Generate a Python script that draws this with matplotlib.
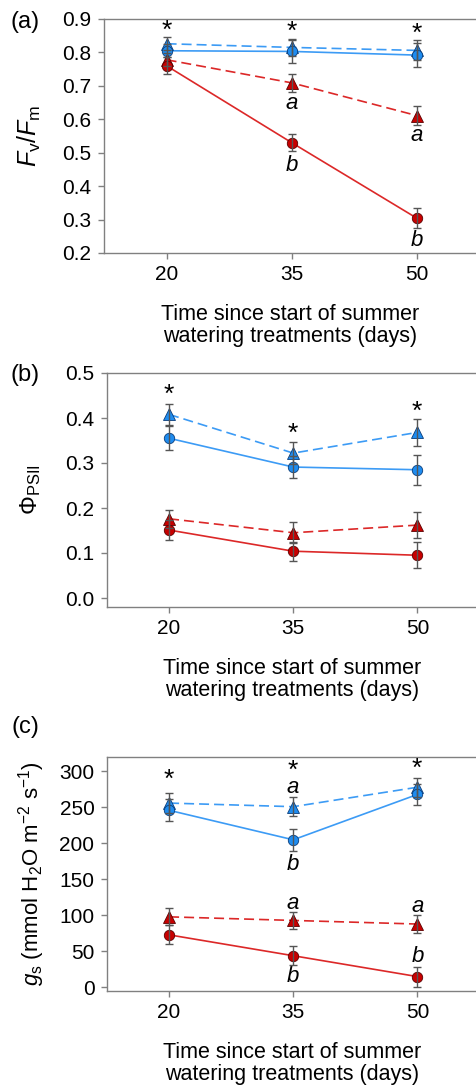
import matplotlib
matplotlib.use('Agg')
import matplotlib.pyplot as plt

plt.rcParams['font.family'] = ['Liberation Sans', 'DejaVu Sans']
plt.rcParams['mathtext.fontset'] = 'custom'
plt.rcParams['mathtext.rm'] = 'Liberation Sans'
plt.rcParams['mathtext.it'] = 'Liberation Sans:italic'

days = [20, 35, 50]

# (a) Fv/Fm
fvfm_blue_tri = [0.826, 0.815, 0.806]
fvfm_blue_tri_err = [0.020, 0.025, 0.030]
fvfm_blue_circ = [0.805, 0.803, 0.792]
fvfm_blue_circ_err = [0.020, 0.035, 0.035]
fvfm_red_tri = [0.778, 0.709, 0.611]
fvfm_red_tri_err = [0.020, 0.027, 0.028]
fvfm_red_circ = [0.760, 0.530, 0.304]
fvfm_red_circ_err = [0.025, 0.026, 0.030]

# (b) PhiPSII
phi_blue_tri = [0.408, 0.322, 0.368]
phi_blue_tri_err = [0.024, 0.024, 0.030]
phi_blue_circ = [0.355, 0.291, 0.285]
phi_blue_circ_err = [0.027, 0.025, 0.033]
phi_red_tri = [0.176, 0.145, 0.162]
phi_red_tri_err = [0.020, 0.023, 0.029]
phi_red_circ = [0.151, 0.104, 0.095]
phi_red_circ_err = [0.022, 0.021, 0.029]

# (c) gs
gs_blue_tri = [256, 251, 278]
gs_blue_tri_err = [14, 13, 13]
gs_blue_circ = [246, 205, 268]
gs_blue_circ_err = [15, 15, 15]
gs_red_tri = [98, 93, 88]
gs_red_tri_err = [12, 12, 13]
gs_red_circ = [73, 44, 15]
gs_red_circ_err = [13, 13, 14]

# annotations: (x, y, text)
notes_a = [(20, 0.867, '*'), (35, 0.864, '*'), (50, 0.858, '*'),
           (35, 0.647, 'a'), (50, 0.552, 'a'), (35, 0.462, 'b'), (50, 0.237, 'b')]
notes_b = [(20, 0.453, '*'), (35, 0.366, '*'), (50, 0.416, '*')]
notes_c = [(20, 289, '*'), (35, 302, '*'), (50, 305, '*'),
           (35, 277, 'a'), (35, 170, 'b'), (35, 117, 'a'), (50, 113, 'a'),
           (50, 43, 'b'), (35, 15, 'b')]

blue_face = '#1E8CF0'
blue_edge = '#0A3C78'
blue_line = '#3C9BF5'
red_face = '#C80000'
red_edge = '#5A0000'
red_line = '#DC2828'
spine_col = '#808080'

xlabel = 'Time since start of summer\nwatering treatments (days)'

fig = plt.figure(figsize=(4.77, 10.86), dpi=100)


def series(ax, y, err, marker, face, edge, line, ls):
    ax.plot(days, y, color=line, ls=ls, lw=1.2, dashes=(6, 3) if ls == '--' else (None, None), zorder=2)
    ax.errorbar(days, y, yerr=err, fmt='none', ecolor='#555555', elinewidth=1.0,
                capsize=3, capthick=1.0, zorder=4)
    ax.plot(days, y, ls='none', marker=marker, ms=7.5 if marker == 'o' else 8,
            mfc=face, mec=edge, mew=0.6, zorder=3)


def style(ax, ylim, yticks, yfmt):
    ax.set_xlim(12.5, 57.2)
    ax.set_ylim(*ylim)
    ax.set_xticks(days)
    ax.set_yticks(yticks)
    ax.set_yticklabels([yfmt.format(v) for v in yticks])
    for s in ax.spines.values():
        s.set_color(spine_col)
        s.set_linewidth(1.0)
    ax.spines['right'].set_visible(False)
    ax.tick_params(direction='out', length=4, width=1.0, color=spine_col,
                   labelsize=15, pad=5)
    ax.set_xlabel(xlabel, fontsize=15.5, labelpad=14, linespacing=1.05)


def notes(ax, items):
    for x, y, t in items:
        if t == '*':
            ax.text(x, y, r'$*$', ha='center', va='center', fontsize=19)
        else:
            ax.text(x, y, r'$\mathit{%s}$' % t, ha='center', va='center', fontsize=16)


# panel (a)
ax1 = fig.add_axes([104 / 477, 1 - 253 / 1086, 373 / 477, 234 / 1086])
series(ax1, fvfm_blue_tri, fvfm_blue_tri_err, '^', blue_face, blue_edge, blue_line, '--')
series(ax1, fvfm_blue_circ, fvfm_blue_circ_err, 'o', blue_face, blue_edge, blue_line, '-')
series(ax1, fvfm_red_tri, fvfm_red_tri_err, '^', red_face, red_edge, red_line, '--')
series(ax1, fvfm_red_circ, fvfm_red_circ_err, 'o', red_face, red_edge, red_line, '-')
style(ax1, (0.2, 0.9), [0.2, 0.3, 0.4, 0.5, 0.6, 0.7, 0.8, 0.9], '{:.1f}')
notes(ax1, notes_a)
ax1.set_ylabel(r'$F_\mathrm{v}/F_\mathrm{m}$', fontsize=18, labelpad=14)

# panel (b)
ax2 = fig.add_axes([107 / 477, 1 - 607 / 1086, 370 / 477, 234 / 1086])
series(ax2, phi_blue_tri, phi_blue_tri_err, '^', blue_face, blue_edge, blue_line, '--')
series(ax2, phi_blue_circ, phi_blue_circ_err, 'o', blue_face, blue_edge, blue_line, '-')
series(ax2, phi_red_tri, phi_red_tri_err, '^', red_face, red_edge, red_line, '--')
series(ax2, phi_red_circ, phi_red_circ_err, 'o', red_face, red_edge, red_line, '-')
style(ax2, (-0.02, 0.5), [0.0, 0.1, 0.2, 0.3, 0.4, 0.5], '{:.1f}')
notes(ax2, notes_b)
ax2.set_ylabel(r'$\Phi_\mathrm{PSII}$', fontsize=17, labelpad=16)

# panel (c)
ax3 = fig.add_axes([107 / 477, 1 - 991 / 1086, 370 / 477, 234 / 1086])
series(ax3, gs_blue_tri, gs_blue_tri_err, '^', blue_face, blue_edge, blue_line, '--')
series(ax3, gs_blue_circ, gs_blue_circ_err, 'o', blue_face, blue_edge, blue_line, '-')
series(ax3, gs_red_tri, gs_red_tri_err, '^', red_face, red_edge, red_line, '--')
series(ax3, gs_red_circ, gs_red_circ_err, 'o', red_face, red_edge, red_line, '-')
style(ax3, (-5, 320), [0, 50, 100, 150, 200, 250, 300], '{:.0f}')
notes(ax3, notes_c)
ax3.set_ylabel(r'$g_\mathrm{s}$ (mmol H$_2$O m$^{-2}$ s$^{-1}$)', fontsize=16, labelpad=9)

fig.text(25 / 477, 1 - 22 / 1086, '(a)', fontsize=17, ha='center', va='center')
fig.text(25 / 477, 1 - 375 / 1086, '(b)', fontsize=17, ha='center', va='center')
fig.text(25 / 477, 1 - 727 / 1086, '(c)', fontsize=17, ha='center', va='center')

fig.savefig('out.png', dpi=100)
